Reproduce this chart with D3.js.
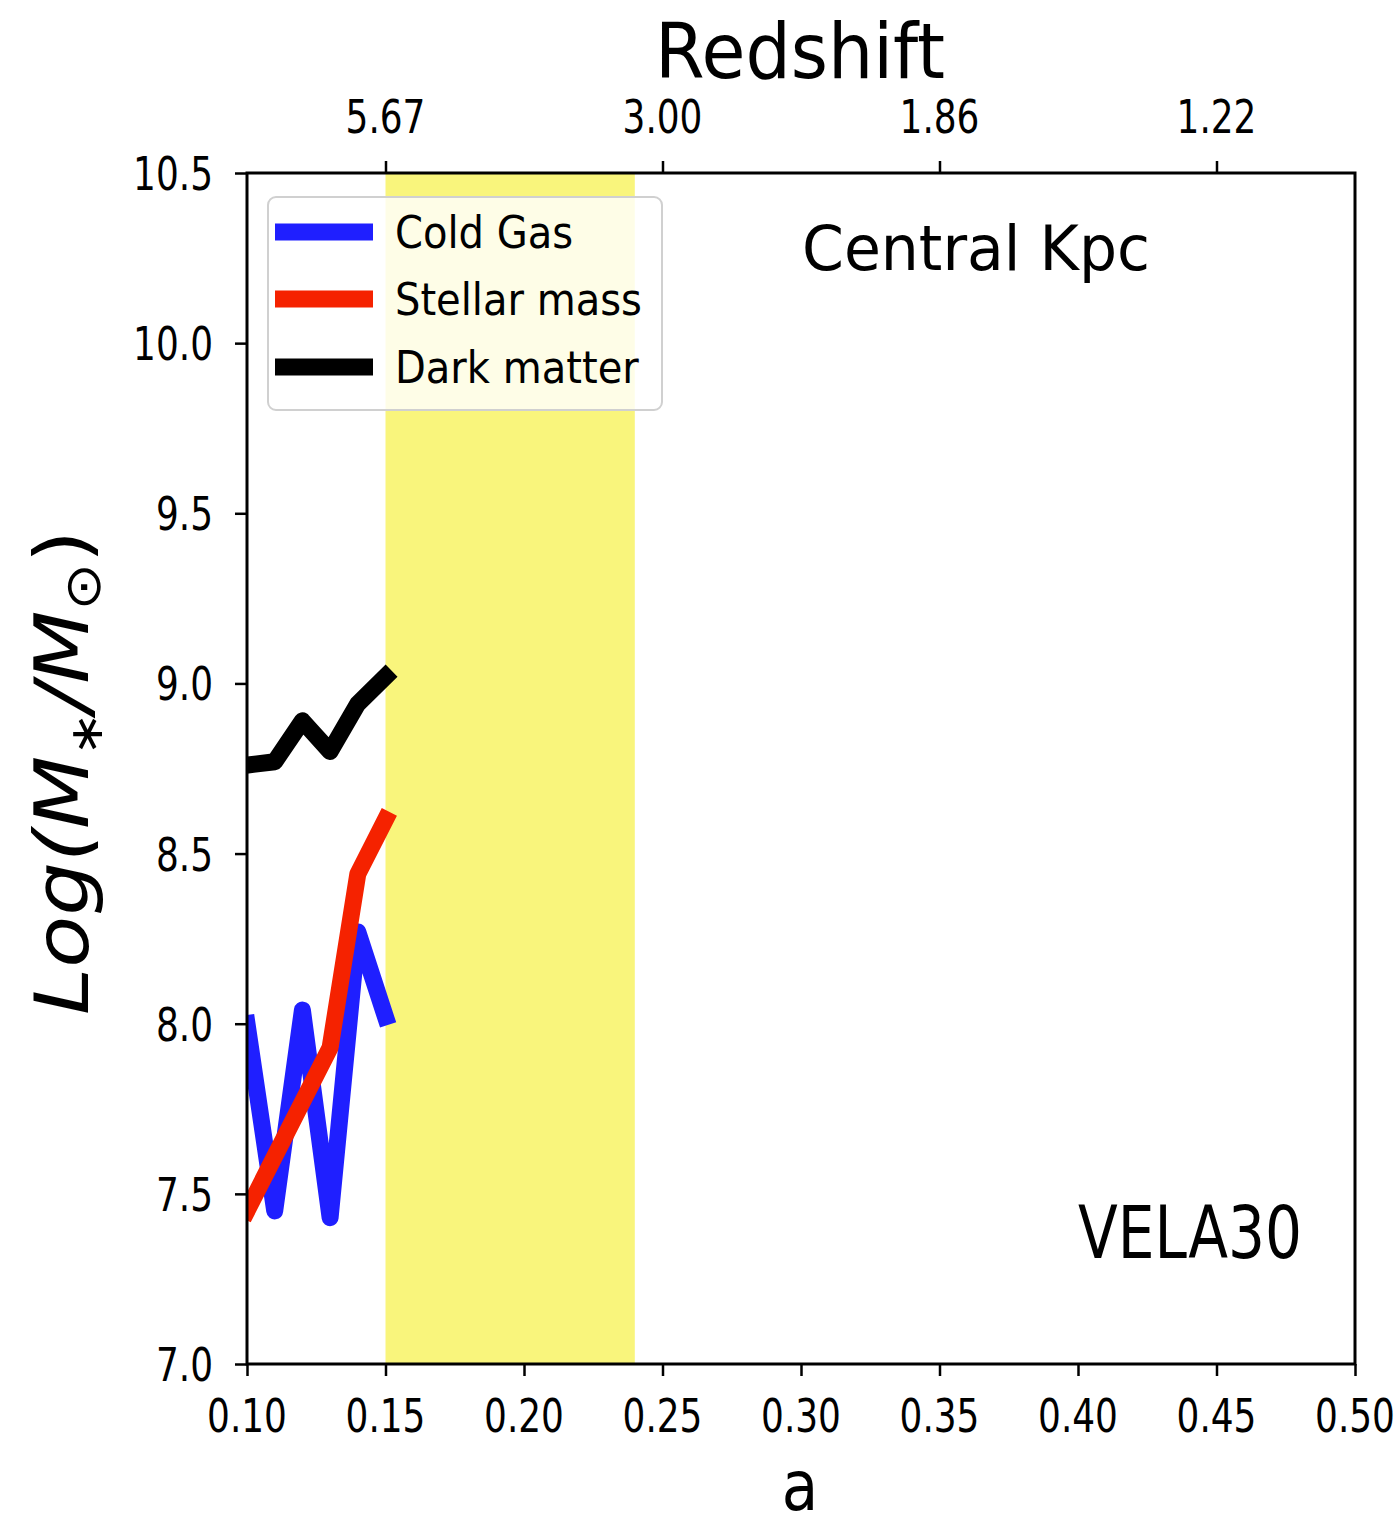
<!DOCTYPE html>
<html>
<head>
<meta charset="utf-8">
<script src="https://cdn.jsdelivr.net/npm/d3@7"></script>
<style>
  html, body { margin: 0; padding: 0; background: #fff; }
  svg text { font-family: "DejaVu Sans", sans-serif; fill: #000; }
</style>
</head>
<body>
<div id="chart"></div>
<script>
// ---- data ----
const scaleFactors = [0.10, 0.11, 0.12, 0.13, 0.14, 0.15];
const coldGas      = [8.00, 7.45, 8.04, 7.43, 8.27, 8.02];
const stellarMass  = [7.45, 7.61, 7.77, 7.93, 8.44, 8.60];
const darkMatter   = [8.76, 8.77, 8.89, 8.80, 8.94, 9.02];
const seriesNames  = ["Cold Gas", "Stellar mass", "Dark matter"];
const seriesColors = ["#1f1fff", "#f52200", "#000000"];
const xTicks = [0.10, 0.15, 0.20, 0.25, 0.30, 0.35, 0.40, 0.45, 0.50];
const yTicks = [7.0, 7.5, 8.0, 8.5, 9.0, 9.5, 10.0, 10.5];
const redshiftTickPos = [0.15, 0.25, 0.35, 0.45];
const redshiftLabels = ["5.67", "3.00", "1.86", "1.22"];
const highlightBand = [0.15, 0.24];

const W = 1400, H = 1525;
const plot = { left: 247, right: 1355, top: 173, bottom: 1364 };

const svg = d3.select("#chart").append("svg").attr("width", W).attr("height", H);

const x = d3.scaleLinear().domain([0.10, 0.50]).range([plot.left, plot.right]);
const y = d3.scaleLinear().domain([7.0, 10.5]).range([plot.bottom, plot.top]);

svg.append("defs").append("clipPath").attr("id", "clip")
  .append("rect").attr("x", plot.left).attr("y", plot.top)
  .attr("width", plot.right - plot.left).attr("height", plot.bottom - plot.top);

// highlight band
svg.append("rect")
  .attr("x", x(highlightBand[0])).attr("y", plot.top)
  .attr("width", x(highlightBand[1]) - x(highlightBand[0]))
  .attr("height", plot.bottom - plot.top)
  .attr("fill", "#f9f57c");

// lines
const seriesData = [coldGas, stellarMass, darkMatter];
const line = d3.line().x(d => x(d[0])).y(d => y(d[1]));
const g = svg.append("g").attr("clip-path", "url(#clip)");
seriesData.forEach((vals, i) => {
  g.append("path")
    .datum(scaleFactors.map((a, j) => [a, vals[j]]))
    .attr("d", line)
    .attr("fill", "none")
    .attr("stroke", seriesColors[i])
    .attr("stroke-width", 17)
    .attr("stroke-linejoin", "round")
    .attr("stroke-linecap", "square");
});

// axes
const tickLen = 12;
function styleAxis(sel) {
  sel.select(".domain").remove();
  sel.selectAll(".tick line").attr("stroke", "#000").attr("stroke-width", 2.5);
  sel.selectAll(".tick text").remove();
}
const xAxis = svg.append("g").attr("transform", `translate(0,${plot.bottom})`)
  .call(d3.axisBottom(x).tickValues(xTicks).tickSize(tickLen));
styleAxis(xAxis);
const yAxis = svg.append("g").attr("transform", `translate(${plot.left},0)`)
  .call(d3.axisLeft(y).tickValues(yTicks).tickSize(tickLen));
styleAxis(yAxis);
const topAxis = svg.append("g").attr("transform", `translate(0,${plot.top})`)
  .call(d3.axisTop(x).tickValues(redshiftTickPos).tickSize(tickLen));
styleAxis(topAxis);

// frame
svg.append("rect")
  .attr("x", plot.left).attr("y", plot.top)
  .attr("width", plot.right - plot.left).attr("height", plot.bottom - plot.top)
  .attr("fill", "none").attr("stroke", "#000").attr("stroke-width", 3);

// text helper with horizontal compression
function label(txt, px, py, size, anchor, sx) {
  return svg.append("text")
    .attr("transform", `translate(${px},${py}) scale(${sx},1)`)
    .attr("font-size", size)
    .attr("text-anchor", anchor)
    .text(txt);
}

const tickSize = 46, tickSX = 0.78;
xTicks.forEach(t => label(d3.format(".2f")(t), x(t), 1432, tickSize, "middle", tickSX));
yTicks.forEach(t => label(d3.format(".1f")(t), 213, y(t) + 17, tickSize, "end", tickSX));
redshiftTickPos.forEach((t, i) => label(redshiftLabels[i], x(t), 133, tickSize, "middle", tickSX));

// titles
svg.append("text").attr("x", 655).attr("y", 78).attr("font-size", 77)
  .attr("textLength", 290).attr("lengthAdjust", "spacingAndGlyphs").text("Redshift");
label("a", 800, 1510, 70, "middle", 0.85);

// y-axis label
const yl = svg.append("text")
  .attr("transform", "translate(88,1015) rotate(-90)")
  .attr("font-size", 75)
  .attr("textLength", 485).attr("lengthAdjust", "spacingAndGlyphs")
  .attr("font-style", "italic");
yl.append("tspan").text("Log(M");
yl.append("tspan").attr("font-size", 46).attr("dy", 14).attr("font-style", "normal").text("∗");
yl.append("tspan").attr("dy", -14).text("/M");
yl.append("tspan").attr("font-size", 50).attr("dy", 12).attr("font-style", "normal").text("⊙");
yl.append("tspan").attr("dy", -12).attr("font-style", "normal").text(")");

// annotations
svg.append("text").attr("x", 802).attr("y", 270).attr("font-size", 62)
  .attr("textLength", 348).attr("lengthAdjust", "spacingAndGlyphs").text("Central Kpc");
svg.append("text").attr("x", 1078).attr("y", 1258).attr("font-size", 73)
  .attr("textLength", 224).attr("lengthAdjust", "spacingAndGlyphs").text("VELA30");

// legend
const lg = svg.append("g");
lg.append("rect").attr("x", 268).attr("y", 197).attr("width", 394).attr("height", 213)
  .attr("rx", 8).attr("ry", 8)
  .attr("fill", "#ffffff").attr("fill-opacity", 0.82)
  .attr("stroke", "#d0d0d0").attr("stroke-width", 2);
const legendY = [232, 299, 367];
seriesNames.forEach((name, i) => {
  lg.append("line").attr("x1", 275).attr("x2", 373)
    .attr("y1", legendY[i]).attr("y2", legendY[i])
    .attr("stroke", seriesColors[i]).attr("stroke-width", 17).attr("stroke-linecap", "butt");
  lg.append("text").attr("transform", `translate(395,${legendY[i] + 16}) scale(0.89,1)`)
    .attr("font-size", 45).text(name);
});
</script>
</body>
</html>
